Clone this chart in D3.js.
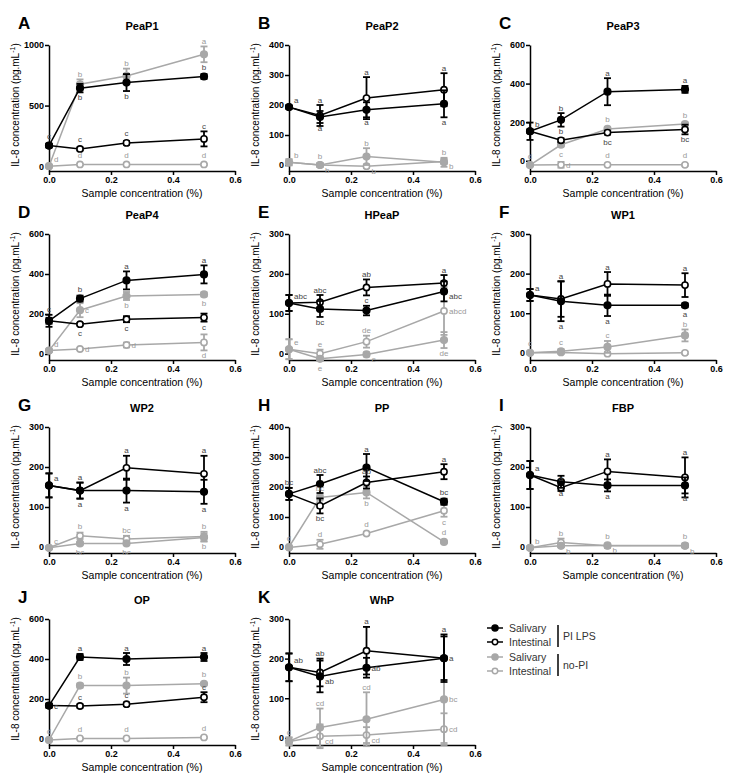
<!DOCTYPE html>
<html>
<head>
<meta charset="utf-8">
<script src="https://cdn.jsdelivr.net/npm/d3@7"></script>
<style>
body{margin:0;background:#fff;}
svg text{font-family:"Liberation Sans",Arial,sans-serif;}
</style>
</head>
<body>
<div id="chart"></div>
<script>
var xVals = [0, 0.1, 0.25, 0.5];
var xTicks = [0, 0.2, 0.4, 0.6];
// series order: salivary PI LPS, intestinal PI LPS, salivary no-PI, intestinal no-PI
var legendNames = ["Salivary", "Intestinal", "Salivary", "Intestinal"];
var legendGroups = ["PI LPS", "no-PI"];

var A_mean = [[170,644,690,740],[170,142,192,225],[0,676,745,923],[0,14,14,14]];
var A_err  = [[15,35,70,20],[15,12,15,62],[8,40,60,65],[5,5,5,5]];
var A_let  = [["c","b","b","b"],["","c","c","c"],["","b","b","a"],["d","d","d","d"]];
var A_pos  = [["u","d","d","u"],["","u","u","u"],["","u","u","u"],["ru","u","u","u"]];

var B_mean = [[193,160,184,204],[193,165,223,251],[9,0,28,9],[9,0,-4,12]];
var B_err  = [[5,20,25,45],[5,35,70,55],[10,6,28,15],[10,6,6,8]];
var B_let  = [["a","a","a","a"],["","a","a","a"],["b","b","b","b"],["","b","b","b"]];
var B_pos  = [["ru","d","d","d"],["","u","u","u"],["ru","u","u","u"],["","rd","rd","rd"]];

var C_mean = [[153,212,358,370],[153,106,146,162],[-22,83,165,190],[-22,-21,-21,-21]];
var C_err  = [[45,35,70,18],[10,10,10,25],[5,8,8,8],[5,15,5,5]];
var C_let  = [["b","b","a","a"],["","b","bc","bc"],["d","c","b","b"],["","d","d","d"]];
var C_pos  = [["ru","u","u","u"],["","u","d","d"],["u","d","u","u"],["","r","u","u"]];

var D_mean = [[166,277,368,398],[166,149,174,182],[17,219,290,298],[17,25,45,58]];
var D_err  = [[30,15,45,45],[15,6,15,20],[5,35,20,10],[5,5,12,40]];
var D_let  = [["c","b","a","a"],["","c","c","c"],["d","c","b","b"],["","d","d","d"]];
var D_pos  = [["u","u","u","u"],["","d","d","d"],["ru","r","d","d"],["","r","r","d"]];

var E_mean = [[127,112,108,156],[127,129,166,177],[11,-13,-2,34],[11,0,30,107]];
var E_err  = [[20,20,12,25],[20,18,20,20],[25,5,5,20],[25,10,15,60]];
var E_let  = [["abc","bc","c","abc"],["","abc","ab","a"],["e","e","e","de"],["","e","de","abcd"]];
var E_pos  = [["ru","d","u","rd"],["","u","u","u"],["ru","d","rd","d"],["","u","u","r"]];

var F_mean = [[146,130,120,120],[146,136,174,171],[0,4,15,44],[0,1,-2,0]];
var F_err  = [[15,50,27,5],[15,45,30,30],[3,5,15,15],[3,3,3,3]];
var F_let  = [["a","a","a","a"],["","a","a","a"],["c","c","c","b"],["","","",""]];
var F_pos  = [["ru","d","d","d"],["","u","u","u"],["u","u","u","u"],["","","",""]];

var G_mean = [[154,141,141,138],[154,141,198,183],[-2,9,9,24],[-2,28,20,26]];
var G_err  = [[30,20,30,30],[30,20,30,45],[3,3,3,10],[3,8,8,12]];
var G_let  = [["a","a","a","a"],["","a","a","a"],["c","bc","bc","b"],["","b","bc","b"]];
var G_pos  = [["ru","d","d","d"],["","u","u","u"],["ru","d","d","d"],["","u","u","u"]];

var H_mean = [[177,210,265,151],[177,137,215,251],[0,165,182,17],[-2,9,45,121]];
var H_err  = [[20,30,45,10],[20,25,20,25],[3,10,20,3],[3,15,5,20]];
var H_let  = [["bc","abc","a","bc"],["","bc","ab","a"],["d","bc","b","d"],["","d","d","c"]];
var H_pos  = [["u","u","u","u"],["","d","u","u"],["u","u","d","u"],["","u","u","d"]];

var I_mean = [[180,163,154,154],[180,148,189,174],[-2,3,4,3],[-2,11,3,4]];
var I_err  = [[35,15,15,20],[35,8,30,50],[3,3,3,3],[3,10,5,5]];
var I_let  = [["a","a","a","a"],["","a","a","a"],["b","b","b","b"],["","b","b","b"]];
var I_pos  = [["ru","d","d","d"],["","u","u","u"],["ru","rd","rd","rd"],["","u","u","u"]];

var J_mean = [[167,410,400,410],[167,165,174,209],[-5,267,267,276],[-5,3,3,8]];
var J_err  = [[10,15,30,20],[10,8,8,25],[3,10,40,5],[3,3,3,3]];
var J_let  = [["c","a","a","a"],["","c","c","c"],["d","b","b","b"],["","d","d","d"]];
var J_pos  = [["r","u","u","u"],["","u","u","u"],["u","u","u","u"],["","u","u","u"]];

var K_mean = [[178,155,177,201],[178,165,220,201],[-9,26,47,97],[-9,4,7,22]];
var K_err  = [[35,40,25,55],[35,35,60,60],[10,48,68,110],[10,30,20,40]];
var K_let  = [["ab","ab","ab","a"],["","ab","a","a"],["d","cd","cd","bc"],["","cd","cd","cd"]];
var K_pos  = [["ru","rd","r","r"],["","u","u","u"],["u","u","u","r"],["","rd","rd","r"]];

var panels = [
  {id:"A", title:"PeaP1", mean:A_mean, err:A_err, lets:A_let, pos:A_pos, ymin:-40, ymax:1000, ticks:[0,500,1000]},
  {id:"B", title:"PeaP2", mean:B_mean, err:B_err, lets:B_let, pos:B_pos, ymin:-20, ymax:400, ticks:[0,100,200,300,400]},
  {id:"C", title:"PeaP3", mean:C_mean, err:C_err, lets:C_let, pos:C_pos, ymin:-53, ymax:600, ticks:[0,200,400,600]},
  {id:"D", title:"PeaP4", mean:D_mean, err:D_err, lets:D_let, pos:D_pos, ymin:-30, ymax:600, ticks:[0,200,400,600]},
  {id:"E", title:"HPeaP", mean:E_mean, err:E_err, lets:E_let, pos:E_pos, ymin:-16, ymax:300, ticks:[0,100,200,300]},
  {id:"F", title:"WP1", mean:F_mean, err:F_err, lets:F_let, pos:F_pos, ymin:-18, ymax:300, ticks:[0,100,200,300]},
  {id:"G", title:"WP2", mean:G_mean, err:G_err, lets:G_let, pos:G_pos, ymin:-15, ymax:300, ticks:[0,100,200,300]},
  {id:"H", title:"PP", mean:H_mean, err:H_err, lets:H_let, pos:H_pos, ymin:-20, ymax:400, ticks:[0,100,200,300,400]},
  {id:"I", title:"FBP", mean:I_mean, err:I_err, lets:I_let, pos:I_pos, ymin:-15, ymax:300, ticks:[0,100,200,300]},
  {id:"J", title:"OP", mean:J_mean, err:J_err, lets:J_let, pos:J_pos, ymin:-30, ymax:600, ticks:[0,200,400,600]},
  {id:"K", title:"WhP", mean:K_mean, err:K_err, lets:K_let, pos:K_pos, ymin:-18, ymax:300, ticks:[0,100,200,300]}
];

var colX = [49, 289, 530];
var rowTop = [45, 234, 427, 619];
var plotW = 186, plotH = 126;
var sColor = ["#000", "#000", "#a8a8a8", "#a8a8a8"];
var sFilled = [true, false, true, false];
var letColor = ["#444", "#444", "#999", "#999"];

var svg = d3.select("#chart").append("svg").attr("width", 737).attr("height", 779);

function drawPanel(p, idx) {
  var x0 = colX[idx % 3], top = rowTop[Math.floor(idx / 3)];
  var g = svg.append("g");
  var x = d3.scaleLinear().domain([0, 0.6]).range([x0, x0 + plotW]);
  var y = d3.scaleLinear().domain([p.ymin, p.ymax]).range([top + plotH, top]);

  var xAxis = d3.axisBottom(x).tickValues(xTicks).tickFormat(d3.format(".1f")).tickSize(4).tickSizeOuter(0).tickPadding(2);
  var yAxis = d3.axisLeft(y).tickValues(p.ticks).tickFormat(d3.format("d")).tickSize(4).tickSizeOuter(0).tickPadding(1);

  g.append("g").attr("transform", "translate(0," + (top + plotH) + ")").call(xAxis);
  g.append("g").attr("transform", "translate(" + x0 + ",0)").call(yAxis);
  g.selectAll(".domain, .tick line").attr("stroke", "#000").attr("stroke-width", 1.5);
  g.selectAll(".tick text").attr("font-size", 9).attr("font-weight", "bold").attr("fill", "#000")
    .attr("font-family", "Liberation Sans, Arial, sans-serif");

  g.append("text").attr("x", x0 - 31).attr("y", top - 16).attr("font-size", 17).attr("font-weight", "bold").text(p.id);
  g.append("text").attr("x", x0 + plotW / 2).attr("y", top - 15).attr("text-anchor", "middle")
    .attr("font-size", 11).attr("font-weight", "bold").text(p.title);

  var yl = g.append("text").attr("transform", "translate(" + (x0 - 30) + "," + (top + 60) + ") rotate(-90)")
    .attr("text-anchor", "middle").attr("font-size", 10).attr("fill", "#000");
  yl.append("tspan").text("IL-8 concentration (pg.mL");
  yl.append("tspan").attr("dy", -4).attr("font-size", 7).text("-1");
  yl.append("tspan").attr("dy", 4).text(")");

  g.append("text").attr("x", x0 + plotW / 2).attr("y", top + plotH + 26).attr("text-anchor", "middle")
    .attr("font-size", 10.5).attr("fill", "#000").text("Sample concentration (%)");

  var line = d3.line().x(function(d) { return x(d[0]); }).y(function(d) { return y(d[1]); });

  [3, 2, 1, 0].forEach(function(s) {
    var pts = xVals.map(function(xv, i) { return [xv, p.mean[s][i], p.err[s][i]]; });
    var col = sColor[s];
    g.append("path").datum(pts).attr("d", line).attr("fill", "none").attr("stroke", col).attr("stroke-width", 1.5);
    var eb = g.append("g");
    pts.forEach(function(d) {
      var cx = x(d[0]), y1 = y(d[1] + d[2]), y2 = y(d[1] - d[2]);
      eb.append("line").attr("x1", cx).attr("x2", cx).attr("y1", y1).attr("y2", y2).attr("stroke", col).attr("stroke-width", 1.8);
      eb.append("line").attr("x1", cx - 3.5).attr("x2", cx + 3.5).attr("y1", y1).attr("y2", y1).attr("stroke", col).attr("stroke-width", 1.8);
      eb.append("line").attr("x1", cx - 3.5).attr("x2", cx + 3.5).attr("y1", y2).attr("y2", y2).attr("stroke", col).attr("stroke-width", 1.8);
    });
    g.selectAll(null).data(pts).enter().append("circle")
      .attr("cx", function(d) { return x(d[0]); })
      .attr("cy", function(d) { return y(d[1]); })
      .attr("r", sFilled[s] ? 3.3 : 3.1)
      .attr("fill", sFilled[s] ? col : "#fff")
      .attr("stroke", col).attr("stroke-width", 1.6);
  });

  // significance letters
  for (var s = 0; s < 4; s++) {
    for (var i = 0; i < 4; i++) {
      var t = p.lets[s][i];
      if (!t) continue;
      var m = p.mean[s][i], e = p.err[s][i], code = p.pos[s][i];
      var cx = x(xVals[i]), cy = y(m);
      var tx = cx, ty = cy, anchor = "middle";
      if (code == "u") ty = Math.min(y(m + e), cy - 4) - 2.5;
      else if (code == "d") ty = Math.max(y(m - e), cy + 4) + 8;
      else {
        tx = cx + 5; anchor = "start";
        ty = code == "ru" ? cy - 4 : code == "rd" ? cy + 8 : cy + 3;
      }
      g.append("text").attr("x", tx).attr("y", ty).attr("text-anchor", anchor)
        .attr("font-size", 8).attr("fill", letColor[s]).text(t);
    }
  }
}

panels.forEach(drawPanel);

// legend
var lg = svg.append("g");
var legY = [628, 642, 657, 671];
legendNames.forEach(function(n, i) {
  lg.append("line").attr("x1", 487).attr("x2", 503).attr("y1", legY[i]).attr("y2", legY[i])
    .attr("stroke", sColor[i]).attr("stroke-width", 1.5);
  lg.append("circle").attr("cx", 495).attr("cy", legY[i]).attr("r", sFilled[i] ? 3 : 2.7)
    .attr("fill", sFilled[i] ? sColor[i] : "#fff").attr("stroke", sColor[i]).attr("stroke-width", 1.5);
  lg.append("text").attr("x", 509).attr("y", legY[i] + 4).attr("font-size", 10.5).attr("fill", "#333").text(n);
});
legendGroups.forEach(function(gname, j) {
  var ya = legY[j * 2] - 3, yb = legY[j * 2 + 1] + 5;
  lg.append("line").attr("x1", 558).attr("x2", 558).attr("y1", ya).attr("y2", yb).attr("stroke", "#000").attr("stroke-width", 1.5);
  lg.append("text").attr("x", 563).attr("y", (ya + yb) / 2 + 4).attr("font-size", 10.5).attr("fill", "#333").text(gname);
});
</script>
</body>
</html>
